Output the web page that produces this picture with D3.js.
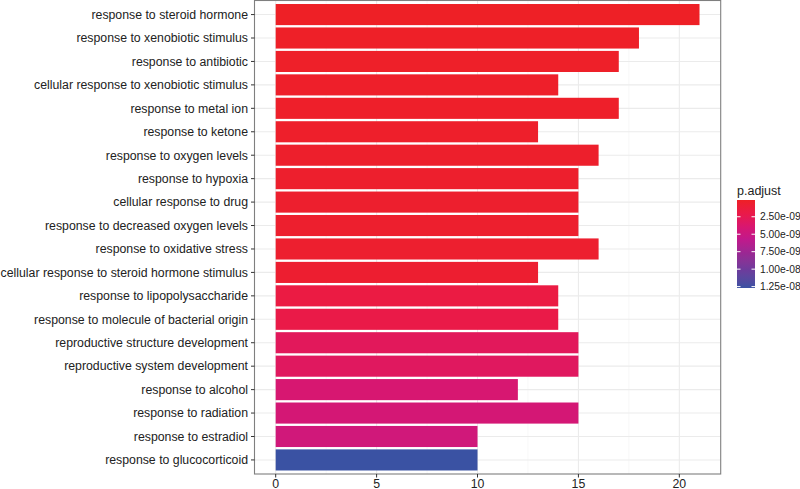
<!DOCTYPE html>
<html><head><meta charset="utf-8">
<script src="https://cdn.jsdelivr.net/npm/d3@7"></script>
<style>body{margin:0;background:#fff}svg{display:block;font-family:"Liberation Sans",Arial,sans-serif}</style>
</head><body><svg id="c" width="800" height="489"></svg>
<script>
const categories = ["response to steroid hormone","response to xenobiotic stimulus","response to antibiotic","cellular response to xenobiotic stimulus","response to metal ion","response to ketone","response to oxygen levels","response to hypoxia","cellular response to drug","response to decreased oxygen levels","response to oxidative stress","cellular response to steroid hormone stimulus","response to lipopolysaccharide","response to molecule of bacterial origin","reproductive structure development","reproductive system development","response to alcohol","response to radiation","response to estradiol","response to glucocorticoid"];
const counts = [21,18,17,14,17,13,16,15,15,15,16,13,14,14,15,15,12,15,10,10];
const padj = [1.0e-10,2.0e-10,2.5e-10,3.0e-10,3.2e-10,3.5e-10,4.0e-10,4.5e-10,5.0e-10,5.2e-10,5.5e-10,6.0e-10,1.7e-9,2.0e-9,2.9e-9,3.1e-9,4.0e-9,4.3e-9,4.6e-9,1.27e-8];
const xTicks = [0,5,10,15,20];
const legendTicks = [2.5e-9,5e-9,7.5e-9,1e-8,1.25e-8];
const legendLabels = ["2.50e-09","5.00e-09","7.50e-09","1.00e-08","1.25e-08"];
const paletteStops = [0,0.15,0.3,0.45,0.6,0.8,1];
const paletteColors = ["#EE2026","#EA1A48","#D9176F","#C0198C","#9B2793","#6C3C9C","#3A52A3"];

const svg = d3.select("#c");
const P = {l:254.5, r:720.7, t:0.5, b:474};
const x = d3.scaleLinear().domain([-1.05,22.05]).range([P.l,P.r]);
const y = d3.scaleLinear().domain([0.4, categories.length+0.6]).range([P.t,P.b]);
const yc = d => y(categories.indexOf(d)+1);
const bh = (y(2)-y(1))*0.9;
const pmin = d3.min(padj), pmax = d3.max(padj);
const tScale = d3.scaleLinear().domain([pmin,pmax]).range([0,1]);
const pal = d3.scaleLinear().domain(paletteStops).range(paletteColors).interpolate(d3.interpolateLab);
const col = v => pal(tScale(v));

const g = svg.append("g");
[2.5,7.5,12.5,17.5].forEach(v=>g.append("line").attr("x1",x(v)).attr("x2",x(v)).attr("y1",P.t).attr("y2",P.b).attr("stroke","#F4F4F4").attr("stroke-width",0.6));
xTicks.forEach(v=>g.append("line").attr("x1",x(v)).attr("x2",x(v)).attr("y1",P.t).attr("y2",P.b).attr("stroke","#EBEBEB").attr("stroke-width",1.1));
categories.forEach(c=>g.append("line").attr("x1",P.l).attr("x2",P.r).attr("y1",yc(c)).attr("y2",yc(c)).attr("stroke","#EBEBEB").attr("stroke-width",1.1));

g.selectAll("rect.bar").data(categories).join("rect").attr("class","bar")
 .attr("x",x(0)).attr("y",d=>yc(d)-bh/2).attr("height",bh)
 .attr("width",(d,i)=>x(counts[i])-x(0)).attr("fill",(d,i)=>col(padj[i]));

svg.append("rect").attr("x",P.l).attr("y",P.t).attr("width",P.r-P.l).attr("height",P.b-P.t).attr("fill","none").attr("stroke","#7F7F7F").attr("stroke-width",1.1);

categories.forEach(c=>{
  svg.append("line").attr("x1",P.l-3.5).attr("x2",P.l).attr("y1",yc(c)).attr("y2",yc(c)).attr("stroke","#333").attr("stroke-width",1);
  svg.append("text").attr("x",P.l-6.5).attr("y",yc(c)).attr("dy","0.35em").attr("text-anchor","end").attr("font-size",12.3).attr("fill","#222").text(c);
});
xTicks.forEach(v=>{
  svg.append("line").attr("x1",x(v)).attr("x2",x(v)).attr("y1",P.b).attr("y2",P.b+3.5).attr("stroke","#333").attr("stroke-width",1);
  svg.append("text").attr("x",x(v)).attr("y",P.b+13.5).attr("text-anchor","middle").attr("font-size",12.3).attr("fill","#222").text(v);
});

const L = {x:737, y0:200, y1:288, w:18};
const ly = d3.scaleLinear().domain([pmin,pmax]).range([L.y0,L.y1]);
const grad = svg.append("defs").append("linearGradient").attr("id","lg").attr("x1",0).attr("x2",0).attr("y1",0).attr("y2",1);
d3.range(0,1.0001,0.05).forEach(t=>grad.append("stop").attr("offset",t).attr("stop-color",pal(t)));
svg.append("text").attr("x",L.x).attr("y",L.y0-5).attr("font-size",12.5).attr("fill","#222").text("p.adjust");
svg.append("rect").attr("x",L.x).attr("y",L.y0).attr("width",L.w).attr("height",L.y1-L.y0).attr("fill","url(#lg)");
legendTicks.forEach((v,i)=>{
  const yy = ly(v);
  svg.append("line").attr("x1",L.x).attr("x2",L.x+3.5).attr("y1",yy).attr("y2",yy).attr("stroke","#fff").attr("stroke-width",1);
  svg.append("line").attr("x1",L.x+L.w-3.5).attr("x2",L.x+L.w).attr("y1",yy).attr("y2",yy).attr("stroke","#fff").attr("stroke-width",1);
  svg.append("text").attr("x",L.x+L.w+5).attr("y",yy).attr("dy","0.35em").attr("font-size",10.3).attr("fill","#222").text(legendLabels[i]);
});
</script></body></html>
